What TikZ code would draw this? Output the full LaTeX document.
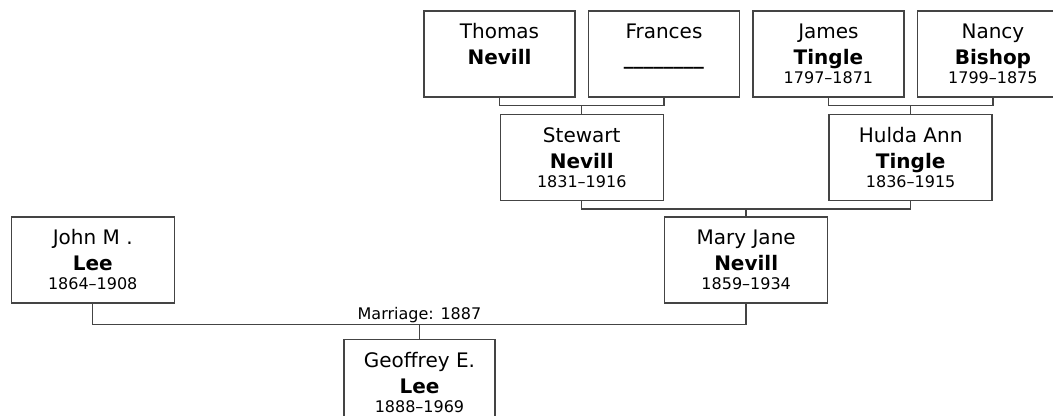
\documentclass[tikz,border=0pt]{standalone}
\usepackage{fontspec}
\setmainfont{DejaVu Sans}
\usepackage{tikz}
\usetikzlibrary{positioning,calc}
\definecolor{treegray}{RGB}{68,68,68}
\newcommand{\datefont}{\fontsize{12}{14}\selectfont}
\newcommand{\who}[3]{#1\\\textbf{#2}\\[-5.25pt]{\datefont #3\vphantom{0}}}

\begin{document}
\begin{tikzpicture}[
    x=0.75pt, y=-0.75pt,
    person/.style={draw=treegray, line width=1.1pt, minimum width=113.25pt, minimum height=64.5pt, inner sep=0pt, align=center, font=\fontsize{15}{19.5}\selectfont},
    wide/.style={person, minimum width=122.25pt},
    link/.style={draw=treegray, line width=1.1pt},
    node distance=9pt
]
    % Frame
    \useasboundingbox (0,0) rectangle (1053,415);
    \clip (0,0) rectangle (1053,415);

    % Grandparents
    \node[person] (thomas) at (499.5,54) {\who{Thomas}{Nevill}{}};
    \node[person, right=of thomas] (frances) {\who{Frances}{\_\_\_\_\_\_\_\_}{}};
    \node[person, right=of frances] (james) {\who{James}{Tingle}{1797–1871}};
    \node[person, right=of james] (nancy) {\who{Nancy}{Bishop}{1799–1875}};
    \coordinate (tf) at ($(thomas.south)!0.5!(frances.south) + (0,8)$);
    \coordinate (jn) at ($(james.south)!0.5!(nancy.south) + (0,8)$);

    % Parents of Mary Jane
    \node[wide, below=6pt of tf] (stewart) {\who{Stewart}{Nevill}{1831–1916}};
    \node[wide, below=6pt of jn] (hulda) {\who{Hulda Ann}{Tingle}{1836–1915}};
    \coordinate (sh) at ($(stewart.south)!0.5!(hulda.south) + (0,8)$);

    % Couple and child
    \node[wide, below=5.25pt of sh] (maryjane) {\who{Mary Jane}{Nevill}{1859–1934}};
    \node[wide, left=366.75pt of maryjane] (john) {\who{John M .}{Lee}{1864–1908}};
    \coordinate (jm) at ($(john.south)!0.5!(maryjane.south) + (0,21)$);
    \node[person, below=10.5pt of jm] (geoffrey) {\who{Geoffrey E.}{Lee}{1888–1969}};

    % Connectors
    \draw[link] (thomas.south) |- (tf) -| (frances.south);
    \draw[link] (tf) -- (stewart.north);
    \draw[link] (james.south) |- (jn) -| (nancy.south);
    \draw[link] (jn) -- (hulda.north);
    \draw[link] (stewart.south) |- (sh) -| (hulda.south);
    \draw[link] (sh) -- (maryjane.north);
    \draw[link] (john.south) |- (jm) -| (maryjane.south);
    \draw[link] (jm) -- (geoffrey.north);

    % Marriage label
    \node[above, inner sep=1pt, font=\datefont] (marriage) at (jm) {Marriage: 1887};
\end{tikzpicture}
\end{document}
